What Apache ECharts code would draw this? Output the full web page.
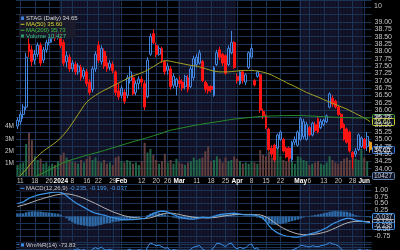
<!DOCTYPE html>
<html><head><meta charset="utf-8">
<script src="https://cdn.jsdelivr.net/npm/echarts/dist/echarts.min.js"></script>
<style>html,body{margin:0;padding:0;background:#000;}#c{width:400px;height:250px;}</style>
</head><body><div id="c"></div>
<script>
const dates = [
'2023-12-08','2023-12-11','2023-12-12','2023-12-13','2023-12-14','2023-12-15','2023-12-18','2023-12-19','2023-12-20','2023-12-21','2023-12-22','2023-12-26','2023-12-27','2023-12-28','2023-12-29',
'2024-01-02','2024-01-03','2024-01-04','2024-01-05','2024-01-08','2024-01-09','2024-01-10','2024-01-11','2024-01-12','2024-01-16','2024-01-17','2024-01-18','2024-01-19','2024-01-22','2024-01-23','2024-01-24','2024-01-25','2024-01-26','2024-01-29','2024-01-30','2024-01-31',
'2024-02-01','2024-02-02','2024-02-05','2024-02-06','2024-02-07','2024-02-08','2024-02-09','2024-02-12','2024-02-13','2024-02-14','2024-02-15','2024-02-16','2024-02-20','2024-02-21','2024-02-22','2024-02-23','2024-02-26','2024-02-27','2024-02-28','2024-02-29',
'2024-03-01','2024-03-04','2024-03-05','2024-03-06','2024-03-07','2024-03-08','2024-03-11','2024-03-12','2024-03-13','2024-03-14','2024-03-15','2024-03-18','2024-03-19','2024-03-20','2024-03-21','2024-03-22','2024-03-25','2024-03-26','2024-03-27','2024-03-28',
'2024-04-01','2024-04-02','2024-04-03','2024-04-04','2024-04-05','2024-04-08','2024-04-09','2024-04-10','2024-04-11','2024-04-12','2024-04-15','2024-04-16','2024-04-17','2024-04-18','2024-04-19','2024-04-22','2024-04-23','2024-04-24','2024-04-25','2024-04-26','2024-04-29','2024-04-30',
'2024-05-01','2024-05-02','2024-05-03','2024-05-06','2024-05-07','2024-05-08','2024-05-09','2024-05-10','2024-05-13','2024-05-14','2024-05-15','2024-05-16','2024-05-17','2024-05-20','2024-05-21','2024-05-22','2024-05-23','2024-05-24','2024-05-28','2024-05-29','2024-05-30','2024-05-31',
'2024-06-03','2024-06-04','2024-06-05'];

const opens = [35.45,35.6,35.85,36.1,38.25,38.05,37.7,37.9,38.2,37.7,38.05,38.3,38.45,38.6,38.5,
38.65,38.3,37.65,37.8,37.4,37.55,37.3,37.45,37.15,37.3,36.95,36.7,37.4,38.2,37.65,38.0,37.6,37.45,37.55,37.3,36.65,
36.5,36.6,36.5,37.0,37.1,36.6,36.9,37.05,36.9,36.45,37.9,38.6,38.2,37.9,38.1,37.65,37.35,37.4,36.85,36.8,
37.0,36.95,36.8,37.1,36.8,37.1,37.55,37.6,37.65,36.95,36.8,36.8,36.5,37.55,38.05,37.9,37.85,37.55,37.95,38.3,
37.15,36.9,37.3,36.95,37.45,37.8,37.0,37.15,37.2,35.95,35.8,35.35,34.7,34.8,34.7,35.0,35.0,34.7,34.7,34.3,34.9,34.8,
35.0,35.1,35.0,35.4,35.15,35.5,35.7,35.4,35.5,35.6,36.1,36.4,36.3,36.1,35.85,35.5,35.35,35.25,34.55,34.5,34.65,34.75,
35.0,34.75,34.9];
const highs = [35.75,35.95,36.2,37.95,38.45,38.2,38.05,38.3,38.3,38.15,38.4,38.6,38.75,38.7,38.8,
38.75,38.4,38.0,37.9,37.7,37.65,37.6,37.55,37.45,37.4,37.05,37.5,38.0,38.35,38.2,38.1,37.85,37.7,37.65,37.35,36.9,
36.85,36.7,37.2,37.5,37.2,37.0,37.15,37.15,37.0,37.8,38.6,38.75,38.3,38.2,38.15,37.7,37.6,37.5,37.25,37.1,
37.15,37.05,37.2,37.2,37.5,37.85,37.9,38.05,37.7,37.0,36.9,36.85,37.5,38.05,38.15,37.95,37.9,38.2,38.7,38.35,
37.25,37.35,37.35,37.25,38.0,38.25,37.05,37.35,37.25,36.05,35.85,35.4,34.8,34.85,35.2,35.3,35.05,34.75,34.75,34.95,35.1,35.3,
35.75,35.7,35.6,35.45,35.6,35.6,35.75,35.7,35.7,35.85,36.6,36.5,36.35,36.15,35.9,35.55,35.4,35.3,34.6,34.7,35.2,35.1,
35.05,35.25,34.95];
const lows = [35.35,35.5,35.7,36.0,37.8,37.5,37.55,37.8,37.5,37.6,37.95,38.2,38.3,38.35,38.4,
38.1,37.5,37.45,37.3,37.3,37.2,37.2,37.0,37.05,36.8,36.5,36.6,37.3,37.6,37.55,37.4,37.3,37.35,37.25,36.5,36.35,
36.4,36.2,36.4,36.9,36.5,36.5,36.7,36.8,36.0,36.4,37.85,38.25,37.8,37.85,37.6,37.2,37.2,36.7,36.75,36.5,
36.75,36.65,36.7,36.6,36.75,37.0,37.45,37.55,36.95,36.6,36.55,36.6,36.45,37.5,37.7,37.5,37.2,37.5,37.9,37.4,
36.9,36.85,36.9,36.85,37.4,37.75,36.8,37.1,35.9,35.7,35.35,34.6,34.4,34.25,34.65,34.95,34.55,34.35,34.25,34.25,34.8,34.75,
34.95,35.0,34.95,35.1,35.1,35.25,35.2,35.35,35.45,35.55,36.05,36.1,36.05,35.8,35.35,34.95,34.85,34.55,34.0,34.4,34.6,34.7,
34.65,34.6,34.55];
const closes = [35.65,35.85,36.1,37.8,38.0,37.65,37.9,38.2,37.6,38.05,38.3,38.45,38.6,38.45,38.65,
38.2,37.6,37.85,37.4,37.6,37.3,37.5,37.1,37.35,36.9,36.6,37.4,37.9,37.7,38.1,37.5,37.4,37.6,37.35,36.6,36.45,
36.75,36.3,37.1,37.3,36.55,36.9,37.05,36.95,36.1,37.7,38.5,38.3,37.9,38.1,37.7,37.3,37.5,36.8,37.15,37.05,
36.9,36.75,37.15,36.7,37.4,37.75,37.8,37.95,37.0,36.7,36.65,36.7,37.45,37.95,37.8,37.6,37.25,38.1,38.3,37.45,
37.0,37.3,37.0,37.2,37.95,38.1,36.85,37.3,36.0,35.8,35.4,34.65,34.5,34.3,35.15,35.25,34.6,34.4,34.35,34.9,35.0,35.25,
35.7,35.6,35.5,35.15,35.55,35.3,35.25,35.6,35.65,35.8,36.55,36.2,36.1,35.85,35.4,35.0,34.9,34.6,34.4,34.6,35.15,35.05,
34.7,35.1,34.65];
// volume in millions of shares
const volumes = [0.9,1.0,1.1,2.6,3.5,2.9,1.6,1.3,1.4,1.0,1.1,0.8,1.0,0.9,1.2,
1.7,1.9,1.5,1.3,1.2,1.1,1.0,1.3,1.1,1.4,1.6,1.3,1.5,1.2,1.1,1.3,1.0,1.1,0.9,1.5,1.6,
1.2,1.1,1.3,1.2,1.0,1.1,0.9,1.2,2.7,1.9,2.2,1.7,1.3,1.0,1.2,1.8,1.1,1.3,1.0,1.4,
1.1,1.0,0.9,1.1,1.2,1.5,1.3,1.4,1.5,2.0,2.4,1.2,1.3,1.6,1.4,1.1,1.5,1.2,1.3,1.6,
1.4,1.2,1.0,1.1,1.0,1.2,1.1,1.0,2.1,1.7,1.6,2.0,1.5,1.4,2.3,1.6,1.3,1.2,1.4,1.2,1.0,1.6,
1.5,1.3,1.2,0.9,1.0,1.1,1.2,1.0,0.9,1.1,1.6,1.3,1.1,1.0,1.2,1.4,1.5,1.3,1.6,1.4,1.3,2.2,
1.5,1.2,0.010427];
const ma50 = [33.70,33.76,33.87,33.98,34.09,34.22,34.32,34.42,34.52,34.60,34.67,34.74,34.81,34.88,34.96,
35.05,35.16,35.28,35.41,35.55,35.70,35.85,36.00,36.15,36.27,36.36,36.43,36.50,36.56,36.62,36.67,36.72,36.77,36.82,36.87,36.92,
36.97,37.02,37.07,37.12,37.16,37.20,37.23,37.27,37.31,37.36,37.42,37.48,37.54,37.60,37.66,37.68,37.68,37.66,37.64,37.62,
37.60,37.58,37.56,37.54,37.52,37.51,37.50,37.47,37.44,37.41,37.38,37.35,37.33,37.31,37.30,37.30,37.30,37.30,37.31,37.32,
37.33,37.34,37.35,37.35,37.35,37.35,37.34,37.33,37.31,37.29,37.26,37.23,37.19,37.14,37.09,37.04,36.99,36.94,36.89,36.85,36.80,36.75,
36.70,36.65,36.60,36.56,36.52,36.48,36.44,36.40,36.35,36.31,36.27,36.23,36.19,36.15,36.11,36.07,36.03,35.98,35.93,35.88,35.83,35.78,
35.73,35.67,35.60];
const ma200 = [33.45,33.50,33.55,33.60,33.64,33.68,33.72,33.76,33.81,33.86,33.91,33.96,34.01,34.06,34.11,
34.16,34.21,34.25,34.28,34.31,34.34,34.37,34.40,34.43,34.46,34.48,34.51,34.54,34.56,34.59,34.62,34.65,34.68,34.71,34.74,34.77,
34.80,34.83,34.86,34.89,34.92,34.95,34.97,35.00,35.03,35.06,35.09,35.12,35.15,35.18,35.21,35.25,35.28,35.31,35.33,35.35,
35.37,35.39,35.41,35.43,35.45,35.47,35.49,35.50,35.52,35.54,35.55,35.57,35.58,35.60,35.61,35.63,35.65,35.66,35.68,35.69,
35.70,35.71,35.72,35.73,35.74,35.75,35.76,35.77,35.78,35.78,35.79,35.79,35.80,35.80,35.80,35.81,35.81,35.81,35.81,35.81,35.81,35.81,
35.81,35.81,35.80,35.80,35.79,35.79,35.78,35.78,35.77,35.77,35.76,35.76,35.75,35.75,35.74,35.74,35.74,35.74,35.73,35.73,35.73,35.73,
35.73,35.73,35.73];
const macdLine = [0.50,0.53,0.56,0.63,0.70,0.75,0.79,0.82,0.85,0.87,0.89,0.91,0.93,0.94,0.95,
0.93,0.88,0.80,0.70,0.62,0.54,0.47,0.41,0.35,0.29,0.22,0.17,0.13,0.10,0.07,0.05,0.02,-0.02,-0.04,-0.06,-0.09,
-0.11,-0.12,-0.13,-0.12,-0.12,-0.11,-0.10,-0.08,-0.08,-0.02,0.06,0.12,0.16,0.19,0.21,0.20,0.17,0.12,0.07,0.03,
-0.02,-0.05,-0.07,-0.09,-0.10,-0.10,-0.08,-0.05,-0.03,-0.04,-0.05,-0.03,0.00,0.04,0.07,0.09,0.10,0.11,0.12,0.13,
0.11,0.09,0.07,0.06,0.06,0.06,0.05,0.03,0.00,-0.08,-0.20,-0.35,-0.47,-0.56,-0.63,-0.68,-0.72,-0.75,-0.77,-0.78,-0.79,-0.79,
-0.77,-0.74,-0.71,-0.68,-0.65,-0.62,-0.58,-0.54,-0.48,-0.43,-0.36,-0.29,-0.23,-0.19,-0.14,-0.10,-0.07,-0.07,-0.10,-0.14,-0.16,-0.18,
-0.20,-0.22,-0.235];
const macdSignal = [0.38,0.41,0.44,0.47,0.51,0.55,0.59,0.63,0.66,0.70,0.73,0.76,0.79,0.82,0.84,
0.86,0.87,0.87,0.86,0.84,0.81,0.78,0.74,0.70,0.65,0.60,0.55,0.50,0.44,0.39,0.33,0.28,0.23,0.18,0.14,0.10,
0.06,0.03,0.00,-0.02,-0.04,-0.05,-0.06,-0.07,-0.08,-0.07,-0.05,-0.02,0.02,0.06,0.09,0.12,0.13,0.13,0.12,0.10,
0.08,0.05,0.03,0.01,-0.01,-0.03,-0.04,-0.05,-0.05,-0.05,-0.05,-0.05,-0.04,-0.03,-0.01,0.01,0.03,0.05,0.06,0.08,
0.08,0.08,0.08,0.08,0.08,0.08,0.07,0.07,0.06,0.03,-0.02,-0.08,-0.16,-0.24,-0.32,-0.39,-0.45,-0.51,-0.56,-0.60,-0.64,-0.67,
-0.69,-0.70,-0.70,-0.70,-0.69,-0.68,-0.66,-0.64,-0.61,-0.58,-0.54,-0.49,-0.44,-0.39,-0.34,-0.29,-0.25,-0.22,-0.20,-0.19,-0.19,-0.19,
-0.19,-0.195,-0.199];
const macdHist = [0.12,0.12,0.12,0.16,0.19,0.20,0.20,0.19,0.19,0.17,0.16,0.15,0.14,0.12,0.11,
0.07,0.01,-0.07,-0.16,-0.22,-0.27,-0.31,-0.33,-0.35,-0.36,-0.38,-0.38,-0.37,-0.34,-0.32,-0.28,-0.26,-0.25,-0.22,-0.20,-0.19,
-0.17,-0.15,-0.13,-0.10,-0.08,-0.06,-0.04,-0.01,0.00,0.05,0.11,0.14,0.14,0.13,0.12,0.08,0.04,-0.01,-0.05,-0.07,
-0.10,-0.10,-0.10,-0.10,-0.09,-0.07,-0.04,0.00,0.02,0.01,0.00,0.02,0.04,0.07,0.08,0.08,0.07,0.06,0.06,0.05,
0.03,0.01,-0.01,-0.02,-0.02,-0.02,-0.02,-0.04,-0.06,-0.11,-0.18,-0.27,-0.31,-0.32,-0.31,-0.29,-0.27,-0.24,-0.21,-0.18,-0.15,-0.12,
-0.08,-0.04,-0.01,0.02,0.04,0.06,0.08,0.10,0.13,0.15,0.18,0.20,0.21,0.20,0.20,0.19,0.18,0.15,0.10,0.05,0.03,0.01,
-0.01,-0.025,-0.037];
const williamsR = [-20,-15,-10,-3,-8,-20,-15,-8,-25,-15,-10,-8,-5,-10,-6,
-25,-50,-40,-55,-50,-60,-55,-68,-60,-75,-88,-55,-45,-55,-40,-60,-65,-58,-65,-90,-95,
-80,-92,-65,-55,-80,-70,-62,-65,-98,-40,-8,-18,-30,-25,-38,-50,-45,-70,-60,-65,
-70,-78,-65,-80,-55,-40,-35,-28,-55,-70,-72,-70,-40,-10,-12,-25,-38,-15,-8,-40,
-55,-42,-52,-45,-25,-15,-55,-45,-88,-90,-92,-97,-90,-95,-75,-70,-85,-90,-88,-65,-55,-45,
-25,-30,-35,-40,-30,-35,-38,-30,-25,-18,-4,-15,-20,-30,-55,-75,-80,-88,-95,-85,-60,-65,
-72,-62,-73.83];
const tickDates = ['2023-12-11','2023-12-18','2023-12-26','2024-01-02','2024-01-08','2024-01-16','2024-01-22','2024-01-29','2024-02-01','2024-02-12','2024-02-20','2024-02-26','2024-03-01','2024-03-11','2024-03-18','2024-03-25','2024-04-01','2024-04-08','2024-04-15','2024-04-22','2024-05-01','2024-05-06','2024-05-13','2024-05-20','2024-05-28','2024-06-03'];
const tickLabels = ['11','18','26','2024','8','16','22','29','Feb','12','20','26','Mar','11','18','25','Apr','8','15','22','May','6','13','20','28','Jun'];
const boldTicks = ['2024','Feb','Mar','Apr','May','Jun'];
const shadedMonths = ['01','03','05'];

const FONT = 'Liberation Sans, Arial, sans-serif';
const gridColor = '#1b3456';
const labelColor = '#c8c8c8';
const tickSet = new Set(tickDates);
const labelMap = {};
tickDates.forEach((d, i) => { labelMap[d] = tickLabels[i]; });
const bandData = dates.map(d => shadedMonths.includes(d.slice(5, 7)) ? 1 : '-');
const last = dates.length - 1;

const L = 16, R = 28.5;
const grids = [
  {left: L, right: R, top: -6, height: 182},
  {left: L, right: R, top: 184, height: 58.5},
  {left: L, right: R, top: 242, height: 50}
];
function catAxis(gi, showLabel) {
  return {
    type: 'category', gridIndex: gi, data: dates, boundaryGap: true,
    axisLine: {show: false}, axisTick: {show: false},
    axisLabel: showLabel ? {
      interval: (i, v) => tickSet.has(v),
      margin: 2, color: labelColor, fontSize: 6.5, fontFamily: FONT,
      formatter: v => { const t = labelMap[v] || ''; return boldTicks.includes(t) ? '{m|' + t + '}' : t; },
      rich: {m: {fontWeight: 'bold', color: '#ffffff', fontSize: 6.5, fontFamily: FONT}}
    } : {show: false},
    splitLine: {show: true, interval: (i, v) => tickSet.has(v), alignWithLabel: true, lineStyle: {color: gridColor, width: 1}}
  };
}
function bandAxisX(gi) {
  return {type: 'category', gridIndex: gi, data: dates, boundaryGap: true, show: false};
}
function bandAxisY(gi) {
  return {type: 'value', gridIndex: gi, min: 0, max: 1, show: false, splitLine: {show: false}};
}
const near = (v, arr) => arr.some(t => Math.abs(t - v) < 1e-6);

const option = {
  backgroundColor: '#000000',
  animation: false,
  grid: grids,
  xAxis: [catAxis(0, true), catAxis(1, false), catAxis(2, false), bandAxisX(0), bandAxisX(1), bandAxisX(2)],
  yAxis: [
    {type: 'value', gridIndex: 0, position: 'right', min: 33.75, max: 39.75, interval: 0.25,
      axisLine: {show: false}, axisTick: {show: false},
      axisLabel: {margin: 3, color: labelColor, fontSize: 7, fontFamily: FONT,
        formatter: v => (v >= 34 - 1e-6 && v <= 39 + 1e-6) ? v.toFixed(2) : ''},
      splitLine: {lineStyle: {color: gridColor, width: 1}}},
    {type: 'value', gridIndex: 0, position: 'left', min: 0, max: 14.27, interval: 1,
      axisLine: {show: false}, axisTick: {show: false}, splitLine: {show: false},
      axisLabel: {margin: 2, color: labelColor, fontSize: 6.5, fontFamily: FONT,
        formatter: v => (v >= 1 && v <= 4) ? v + 'M' : ''}},
    {type: 'value', gridIndex: 1, position: 'right', min: -1, max: 1.25, interval: 0.25,
      axisLine: {show: false}, axisTick: {show: false},
      axisLabel: {margin: 3, color: labelColor, fontSize: 7, fontFamily: FONT,
        formatter: v => near(v, [1, 0.75, 0.5, 0.25, -0.5, -0.75]) ? v.toFixed(2) : ''},
      splitLine: {lineStyle: {color: gridColor, width: 1}}},
    {type: 'value', gridIndex: 2, position: 'right', min: -100, max: 0, interval: 20,
      axisLine: {show: false}, axisTick: {show: false}, axisLabel: {show: false},
      splitLine: {lineStyle: {color: gridColor, width: 1}}},
    bandAxisY(0), bandAxisY(1), bandAxisY(2)
  ],
  series: [
    {type: 'bar', xAxisIndex: 3, yAxisIndex: 4, data: bandData, barCategoryGap: '0%', silent: true, z: -5, itemStyle: {color: '#13132a'}},
    {type: 'bar', xAxisIndex: 4, yAxisIndex: 5, data: bandData, barCategoryGap: '0%', silent: true, z: -5, itemStyle: {color: '#13132a'}},
    {type: 'bar', xAxisIndex: 5, yAxisIndex: 6, data: bandData, barCategoryGap: '0%', silent: true, z: -5, itemStyle: {color: '#13132a'}},
    {type: 'bar', name: 'Volume', xAxisIndex: 0, yAxisIndex: 1, data: volumes, barWidth: 2, z: 1,
      itemStyle: {color: p => closes[p.dataIndex] >= opens[p.dataIndex] ? '#22664a' : '#623f3f'}},
    {type: 'candlestick', name: 'STAG', xAxisIndex: 0, yAxisIndex: 0, barWidth: 2.4, z: 3,
      data: dates.map((d, i) => {
        const item = {value: [opens[i], closes[i], lows[i], highs[i]]};
        if (i === last) item.itemStyle = {color: '#e89a20', color0: '#e89a20', borderColor: '#e89a20', borderColor0: '#e89a20'};
        return item;
      }),
      itemStyle: {color: 'rgba(0,0,0,0)', color0: '#ff1414', borderColor: '#4386e0', borderColor0: '#ff1414', borderWidth: 1}},
    {type: 'line', name: 'MA(50)', xAxisIndex: 0, yAxisIndex: 0, data: ma50, symbol: 'none', z: 4,
      lineStyle: {color: '#a4a424', width: 1}},
    {type: 'line', name: 'MA(200)', xAxisIndex: 0, yAxisIndex: 0, data: ma200, symbol: 'none', z: 4,
      lineStyle: {color: '#2a8f2a', width: 1}},
    {type: 'bar', name: 'Hist', xAxisIndex: 1, yAxisIndex: 2, data: macdHist, barCategoryGap: '15%', z: 2,
      itemStyle: {color: '#2f6aa8'}},
    {type: 'line', name: 'Signal', xAxisIndex: 1, yAxisIndex: 2, data: macdSignal, symbol: 'none', z: 3,
      lineStyle: {color: '#b4b4b4', width: 1}},
    {type: 'line', name: 'MACD', xAxisIndex: 1, yAxisIndex: 2, data: macdLine, symbol: 'none', z: 4,
      lineStyle: {color: '#3d95ea', width: 1.2}},
    {type: 'line', name: 'Wm%R', xAxisIndex: 2, yAxisIndex: 3, data: williamsR, symbol: 'none', z: 3,
      lineStyle: {color: '#3d8fe6', width: 1}}
  ]
};

const chart = echarts.init(document.getElementById('c'), null, {renderer: 'canvas'});
chart.setOption(option);

function valueBox(y, text, stroke, textColor) {
  return {type: 'group', x: 372.5, y: Math.round(y) - 3.5, z: 100, children: [
    {type: 'rect', shape: {x: 0, y: 0, width: 22, height: 7, r: 1}, style: {fill: '#0b1226', stroke: stroke, lineWidth: 1}},
    {type: 'text', x: 1.5, y: 3.8, style: {text: text, fill: textColor, font: '6.5px ' + FONT, textVerticalAlign: 'middle'}}
  ]};
}
const py = v => chart.convertToPixel({yAxisIndex: 0}, v);
const vy = v => chart.convertToPixel({yAxisIndex: 1}, v);
const my = v => chart.convertToPixel({yAxisIndex: 2}, v);
const lastVolShares = Math.round(volumes[last] * 1e6);
const lastVolText = lastVolShares.toLocaleString('en-US');

const legendText = (x, y, text, fill) => ({type: 'text', x: x, y: y, z: 101,
  style: {text: text, fill: fill, font: '6px ' + FONT, textVerticalAlign: 'middle'}});

chart.setOption({graphic: [
  {type: 'text', x: 374, y: 6, z: 100, style: {text: '10', fill: labelColor, font: '7px ' + FONT, textVerticalAlign: 'middle'}},
  // main legend
  {type: 'rect', z: 100, shape: {x: 19, y: 14.5, width: 57, height: 24}, style: {fill: 'rgba(28,28,44,0.85)'}},
  {type: 'rect', z: 101, shape: {x: 21, y: 16.5, width: 3, height: 3.5}, style: {fill: '#3d7fd8'}},
  legendText(26, 18.3, 'STAG (Daily) ' + closes[last].toFixed(2), '#d8d8d8'),
  {type: 'rect', z: 101, shape: {x: 20.5, y: 23.8, width: 4, height: 1}, style: {fill: '#c8c82a'}},
  legendText(26, 24.3, 'MA(50) ' + ma50[last].toFixed(2), '#d6d630'),
  {type: 'rect', z: 101, shape: {x: 20.5, y: 29.8, width: 4, height: 1}, style: {fill: '#38b038'}},
  legendText(26, 30.3, 'MA(200) ' + ma200[last].toFixed(2), '#40c040'),
  {type: 'rect', z: 101, shape: {x: 21, y: 34.5, width: 3, height: 3}, style: {fill: '#2a9a6a'}},
  legendText(26, 36.1, 'Volume ' + lastVolText, '#3cc88a'),
  // MACD legend
  {type: 'rect', z: 100, shape: {x: 19, y: 184.5, width: 104, height: 7.5}, style: {fill: 'rgba(20,20,36,0.85)'}},
  {type: 'rect', z: 101, shape: {x: 20.5, y: 187.8, width: 4, height: 1}, style: {fill: '#3d95ea'}},
  {type: 'text', x: 26, y: 188.3, z: 101, style: {
    text: '{a|MACD(12,26,9)} {b|' + macdLine[last].toFixed(3) + ', ' + macdSignal[last].toFixed(3) + ', ' + macdHist[last].toFixed(3) + '}',
    font: '6px ' + FONT, textVerticalAlign: 'middle',
    rich: {a: {fill: '#cfcfcf', font: '6px ' + FONT}, b: {fill: '#4a9ceb', font: '6px ' + FONT}}}},
  // Williams %R legend
  {type: 'rect', z: 100, shape: {x: 19, y: 241.5, width: 56, height: 7.5}, style: {fill: 'rgba(20,20,36,0.85)'}},
  {type: 'rect', z: 101, shape: {x: 21, y: 243.5, width: 3, height: 3}, style: {fill: '#3d8fe6'}},
  legendText(26, 245.3, 'Wm%R(14) ' + williamsR[last].toFixed(2), '#cfcfcf'),
  // right value boxes
  valueBox(py(ma200[last]), ma200[last].toFixed(2), '#3aa03a', '#d0d0d0'),
  valueBox(py(ma50[last]), ma50[last].toFixed(2), '#c8c82a', '#e0e070'),
  valueBox(py(closes[last]), closes[last].toFixed(2), '#3d7fd8', '#ffffff'),
  valueBox(vy(0) - 0.5, String(lastVolShares), '#5f7fa8', '#d0d0d0'),
  valueBox(my(macdHist[last]), macdHist[last].toFixed(3), '#3d8fe6', '#d0d0d0'),
  valueBox(my(macdSignal[last]) + 1, macdSignal[last].toFixed(3), '#b4b4b4', '#d0d0d0'),
  valueBox(my(macdLine[last]) + 3, macdLine[last].toFixed(3), '#3d8fe6', '#d0d0d0')
]});
</script>
</body></html>
